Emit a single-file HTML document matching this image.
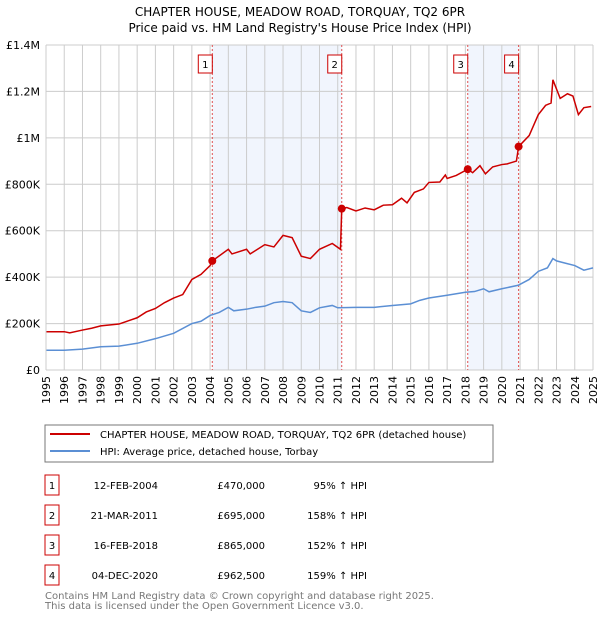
<!DOCTYPE html>
<html><head><meta charset="utf-8"><style>
body{margin:0;background:#fff;font-family:"DejaVu Sans","Liberation Sans",sans-serif;}
svg text{font-family:"DejaVu Sans","Liberation Sans",sans-serif;}
</style></head><body>
<svg id="c" width="600" height="620">
<text x="300" y="16" text-anchor="middle" font-size="12">CHAPTER HOUSE, MEADOW ROAD, TORQUAY, TQ2 6PR</text>
<text x="300" y="32" text-anchor="middle" font-size="12">Price paid vs. HM Land Registry's House Price Index (HPI)</text>
<g id="plot"></g>
<rect x="45" y="425" width="448" height="37" fill="none" stroke="#777"/>
<line x1="50" y1="434" x2="90" y2="434" stroke="#cc0000" stroke-width="2"/>
<text x="100" y="438" font-size="10">CHAPTER HOUSE, MEADOW ROAD, TORQUAY, TQ2 6PR (detached house)</text>
<line x1="50" y1="451" x2="90" y2="451" stroke="#5b8fd4" stroke-width="2"/>
<text x="100" y="455" font-size="10">HPI: Average price, detached house, Torbay</text>
<g id="tbl" font-size="10"></g>
<text x="45" y="599" font-size="10" fill="#777">Contains HM Land Registry data © Crown copyright and database right 2025.</text>
<text x="45" y="609" font-size="10" fill="#777">This data is licensed under the Open Government Licence v3.0.</text>
</svg>
<script>
const yTicks=[0,200,400,600,800,1000,1200,1400];
const yTickLabels=["£0","£200K","£400K","£600K","£800K","£1M","£1.2M","£1.4M"];
const hpiYears=[1995,1996,1997,1998,1999,2000,2001,2002,2003,2003.5,2004,2004.5,2005,2005.3,2006,2006.5,2007,2007.5,2008,2008.5,2009,2009.5,2010,2010.7,2011,2012,2013,2014,2015,2015.5,2016,2017,2018,2018.5,2019,2019.3,2020,2020.9,2021.5,2022,2022.5,2022.8,2023,2023.5,2024,2024.5,2025];
const hpiValues=[85,85,90,100,103,115,135,158,200,210,235,248,270,255,262,270,275,290,295,290,255,248,268,278,268,270,270,278,285,300,310,322,335,338,350,337,350,365,390,425,440,480,470,460,450,430,440];
const priceYears=[1995,1996,1996.3,1997,1997.5,1998,1999,2000,2000.5,2001,2001.5,2002,2002.5,2003,2003.5,2004,2004.12,2005,2005.2,2006,2006.2,2007,2007.5,2008,2008.5,2009,2009.5,2010,2010.7,2011.15,2011.22,2011.5,2012,2012.5,2013,2013.5,2014,2014.5,2014.8,2015.2,2015.7,2016,2016.6,2016.9,2017,2017.5,2018.13,2018.4,2018.8,2019.1,2019.5,2020,2020.3,2020.8,2020.92,2021.5,2022,2022.4,2022.7,2022.8,2023.2,2023.6,2023.9,2024.2,2024.5,2024.9];
const priceValues=[165,165,160,172,180,190,198,225,250,265,290,310,325,390,412,450,470,520,500,520,500,540,530,580,570,490,480,520,545,520,695,700,685,698,690,710,712,740,720,765,780,808,810,840,825,838,865,850,880,845,875,885,888,900,962.5,1010,1100,1140,1150,1250,1170,1190,1180,1100,1130,1135];
const saleIds=["1","2","3","4"];
const saleYears=[2004.12,2011.22,2018.13,2020.92];
const saleValues=[470,695,865,962.5];
const saleDates=["12-FEB-2004","21-MAR-2011","16-FEB-2018","04-DEC-2020"];
const salePrices=["£470,000","£695,000","£865,000","£962,500"];
const saleHpi=["95% ↑ HPI","158% ↑ HPI","152% ↑ HPI","159% ↑ HPI"];
const X0=46,X1=593,Y0=370,Y1=45;
const xs=y=>X0+(y-1995)/30*(X1-X0);
const ys=v=>Y0-v/1400*(Y0-Y1);
const NS="http://www.w3.org/2000/svg";
const plot=document.getElementById('plot');
function mk(t,a,p){const e=document.createElementNS(NS,t);for(const k in a)e.setAttribute(k,a[k]);(p||plot).appendChild(e);return e;}
// shading
[[0,1],[2,3]].forEach(([a,b])=>{
 const r=mk('rect',{x:xs(saleYears[a]),y:Y1,width:xs(saleYears[b])-xs(saleYears[a]),height:Y0-Y1,fill:'#eef3fc',opacity:0.8});
 
 
});
for(let yr=1995;yr<=2025;yr++){
 const l=mk('line',{x1:xs(yr),x2:xs(yr),y1:Y1,y2:Y0,stroke:'#ccc'});
 
 
 const t=mk('text',{x:0,y:0,'font-size':11,'text-anchor':'end',transform:`translate(${xs(yr)+4},${Y0+6}) rotate(-90)`});
 t.textContent=yr;
 
 
}
yTicks.forEach((v,i)=>{
 const l=mk('line',{x1:X0,x2:X1,y1:ys(v),y2:ys(v),stroke:'#ccc'});
 
 
 const t=mk('text',{x:40,y:ys(v)+4,'font-size':11,'text-anchor':'end'});
 t.textContent=yTickLabels[i];
 
 
});
saleYears.forEach((y,i)=>{
 const l=mk('line',{x1:xs(y),x2:xs(y),y1:Y1,y2:Y0,stroke:'#e05050','stroke-dasharray':'2,2'});
 
 
 const r=mk('rect',{x:xs(y)-14,y:55,width:14,height:18,fill:'#fff',stroke:'#cc0000'});
 
 
 const t=mk('text',{x:xs(y)-7,y:68,'font-size':10,'text-anchor':'middle'});
 t.textContent=saleIds[i];
 
 
});
const hp=mk('path',{d:hpiYears.map((y,i)=>(i?'L':'M')+xs(y)+','+ys(hpiValues[i])).join(''),fill:'none',stroke:'#5b8fd4','stroke-width':1.5});


const pp=mk('path',{d:priceYears.map((y,i)=>(i?'L':'M')+xs(y)+','+ys(priceValues[i])).join(''),fill:'none',stroke:'#cc0000','stroke-width':1.5});


saleYears.forEach((y,i)=>{
 const c=mk('circle',{cx:xs(y),cy:ys(saleValues[i]),r:4,fill:'#cc0000'});
 
 
});
mk('line',{x1:X0,x2:X0,y1:Y1,y2:Y0,stroke:'#ccc'});
const tbl=document.getElementById('tbl');
saleIds.forEach((id,i)=>{
 const y=475+i*30;
 const r=mk('rect',{x:45,y:y,width:14,height:20,fill:'#fff',stroke:'#cc0000'},tbl);
 
 
 const cells=[[52,id,'middle'],[158,saleDates[i],'end'],[265,salePrices[i],'end'],[367,saleHpi[i],'end']];
 cells.forEach(([x,s,a])=>{
  const t=mk('text',{x:x,y:y+14,'text-anchor':a},tbl);
  t.textContent=s;
  
  
 });
});
</script>
</body></html>
